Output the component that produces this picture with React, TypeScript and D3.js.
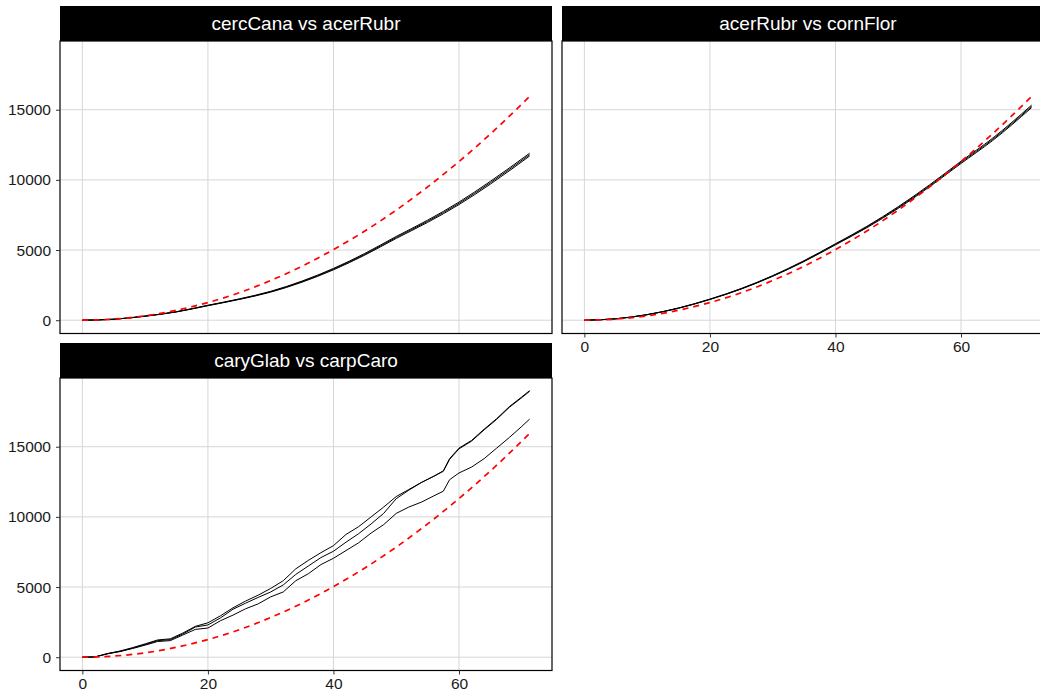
import { useEffect, useRef } from "react";
import * as d3 from "d3";

// distance grid (step 5) used by the smooth curves
const rGrid = [0, 5, 10, 15, 20, 25, 30, 35, 40, 45, 50, 55, 60, 65, 71.25];
// theoretical K (red dashed)
const theoK = [0, 80, 310, 710, 1260, 1960, 2830, 3850, 5030, 6360, 7850, 9500, 11310, 13270, 15950];

// cercCana vs acerRubr
const cercObs = [0, 70, 290, 600, 1050, 1500, 2030, 2750, 3640, 4700, 5900, 7050, 8330, 9800, 11800];
const cercHi = [0, 72, 295, 610, 1065, 1520, 2060, 2790, 3690, 4760, 5970, 7130, 8420, 9900, 11900];
const cercLo = [0, 68, 285, 590, 1035, 1480, 2000, 2710, 3590, 4640, 5830, 6970, 8240, 9700, 11700];

// acerRubr vs cornFlor
const acerObs = [0, 100, 395, 860, 1490, 2240, 3150, 4210, 5410, 6640, 8030, 9580, 11250, 12870, 15240];
const acerHi = [0, 104, 402, 872, 1505, 2262, 3178, 4245, 5450, 6690, 8090, 9650, 11330, 12960, 15330];
const acerLo = [0, 96, 388, 850, 1475, 2220, 3125, 4180, 5370, 6590, 7970, 9510, 11170, 12790, 15150];

// caryGlab vs carpCaro (finer grid, jagged)
const caryR = [0, 2, 4, 6, 8, 10, 12, 14, 16, 18, 20, 22, 24, 26, 28, 30, 32, 34, 36, 38, 40, 42, 44, 46, 48, 50, 52, 54, 56, 57.5, 58.5, 60, 62, 64, 66, 68, 70, 71.25];
const caryObs = [0, 20, 250, 420, 650, 900, 1180, 1250, 1650, 2150, 2300, 2800, 3420, 3850, 4260, 4650, 5150, 5900, 6500, 7100, 7550, 8200, 8800, 9500, 10250, 11300, 11900, 12450, 12900, 13250, 14100, 14850, 15400, 16200, 16950, 17800, 18500, 18950];
const caryHi = [0, 20, 260, 440, 680, 950, 1230, 1310, 1720, 2200, 2450, 2950, 3520, 4000, 4420, 4900, 5450, 6300, 6900, 7450, 7950, 8750, 9300, 10000, 10700, 11450, 11950, 12450, 12900, 13280, 14150, 14900, 15450, 16250, 17000, 17850, 18550, 19000];
const caryLo = [0, 15, 240, 400, 620, 860, 1120, 1180, 1580, 1980, 2080, 2600, 3000, 3450, 3800, 4300, 4650, 5450, 5950, 6600, 7050, 7600, 8150, 8850, 9450, 10250, 10700, 11050, 11500, 11830, 12650, 13130, 13550, 14150, 14900, 15650, 16450, 16970];

const panelTitles = ["cercCana vs acerRubr", "acerRubr vs cornFlor", "caryGlab vs carpCaro"];
const xTicks = [0, 20, 40, 60];
const yTicks = [0, 5000, 10000, 15000];

const App = () => {
    const ref = useRef<SVGSVGElement>(null);

    useEffect(() => {
        document.body.style.margin = "0";
        const svg = d3.select(ref.current);
        svg.selectAll("*").remove();

        const panelW = 492;
        const panelH = 292.5;
        const stripH = 35;
        const font = "'Liberation Sans', Arial, sans-serif";

        const x = d3.scaleLinear().domain([-3.5625, 74.8125]).range([0, panelW]);
        const y = d3.scaleLinear().domain([-947.5, 19897.5]).range([panelH, 0]);

        const panels = [
            { title: panelTitles[0], left: 60, top: 41, r: rGrid, lines: [cercLo, cercHi, cercObs], smooth: true, yAxis: true, xAxis: false },
            { title: panelTitles[1], left: 562, top: 41, r: rGrid, lines: [acerLo, acerHi, acerObs], smooth: true, yAxis: false, xAxis: true },
            { title: panelTitles[2], left: 60, top: 378, r: caryR, lines: [caryLo, caryHi, caryObs], smooth: false, yAxis: true, xAxis: true },
        ];

        panels.forEach((p, i) => {
            const g = svg.append("g").attr("transform", `translate(${p.left},${p.top})`);

            // strip
            g.append("rect")
                .attr("x", 0).attr("y", -stripH)
                .attr("width", panelW).attr("height", stripH)
                .attr("fill", "#000");
            g.append("text")
                .attr("x", panelW / 2).attr("y", -stripH / 2)
                .attr("text-anchor", "middle")
                .attr("dominant-baseline", "central")
                .attr("fill", "#fff")
                .attr("font-family", font)
                .attr("font-size", "19px")
                .text(p.title);

            // panel background + grid
            g.append("rect").attr("width", panelW).attr("height", panelH).attr("fill", "#fff");
            g.selectAll(".gx").data(xTicks).enter().append("line")
                .attr("x1", d => x(d)).attr("x2", d => x(d))
                .attr("y1", 0).attr("y2", panelH)
                .attr("stroke", "#d6d6d6").attr("stroke-width", 1);
            g.selectAll(".gy").data(yTicks).enter().append("line")
                .attr("y1", d => y(d)).attr("y2", d => y(d))
                .attr("x1", 0).attr("x2", panelW)
                .attr("stroke", "#d6d6d6").attr("stroke-width", 1);

            const clipId = `clip${i}`;
            g.append("clipPath").attr("id", clipId)
                .append("rect").attr("width", panelW).attr("height", panelH);
            const body = g.append("g").attr("clip-path", `url(#${clipId})`);

            const line = d3.line<number>()
                .x((_, k) => x(p.r[k]))
                .y(d => y(d))
                .curve(p.smooth ? d3.curveMonotoneX : d3.curveLinear);

            p.lines.forEach(vals => {
                body.append("path")
                    .attr("d", line(vals))
                    .attr("fill", "none")
                    .attr("stroke", "#000")
                    .attr("stroke-width", 1);
            });

            const theoLine = d3.line<number>()
                .x((_, k) => x(rGrid[k]))
                .y(d => y(d))
                .curve(d3.curveMonotoneX);
            body.append("path")
                .attr("d", theoLine(theoK))
                .attr("fill", "none")
                .attr("stroke", "#ff0000")
                .attr("stroke-width", 1.7)
                .attr("stroke-dasharray", "6,5");

            // border
            g.append("rect").attr("width", panelW).attr("height", panelH)
                .attr("fill", "none").attr("stroke", "#000").attr("stroke-width", 1.2);

            if (p.yAxis) {
                const ya = g.append("g")
                    .call(d3.axisLeft(y).tickValues(yTicks).tickSize(4).tickPadding(5).tickFormat(d3.format("d")));
                ya.select(".domain").remove();
                ya.selectAll("line").attr("stroke", "#333");
                ya.selectAll("text").attr("font-family", font).attr("font-size", "15.5px").attr("fill", "#1a1a1a");
            }
            if (p.xAxis) {
                const xa = g.append("g")
                    .attr("transform", `translate(0,${panelH})`)
                    .call(d3.axisBottom(x).tickValues(xTicks).tickSize(4).tickPadding(3));
                xa.select(".domain").remove();
                xa.selectAll("line").attr("stroke", "#333");
                xa.selectAll("text").attr("font-family", font).attr("font-size", "15.5px").attr("fill", "#1a1a1a");
            }
        });
    }, []);

    return <svg ref={ref} width={1040} height={694} style={{ display: "block", background: "#fff" }} />;
};

export default App;
